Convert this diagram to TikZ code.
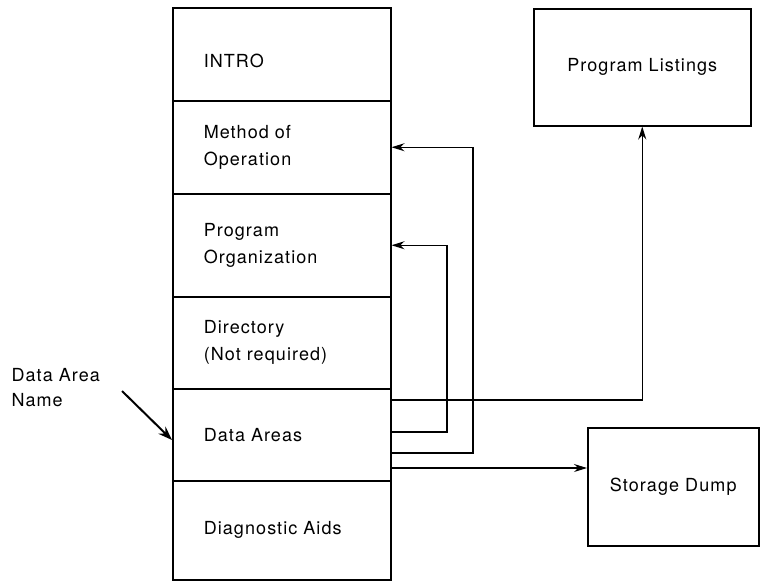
\documentclass[tikz,border=0pt]{standalone}
\usepackage{fontspec}
\setmainfont{TeX Gyre Heros}[LetterSpace=6]
\usetikzlibrary{arrows.meta}

\tikzset{
  section/.style={draw, line width=1.5pt, anchor=north west, minimum width=218pt,
    text width=156pt, inner xsep=31pt, align=left, font=\fontsize{18}{27}\selectfont},
  outbox/.style={draw, line width=1.5pt, anchor=north west, align=center,
    font=\fontsize{18}{27}\selectfont},
  flow/.style={line width=1.1pt, -{Stealth[length=13pt,width=8pt]}},
  pointer/.style={line width=2pt, -{Stealth[length=14pt,width=10pt]}}
}

\begin{document}
\begin{tikzpicture}[x=1pt,y=1pt]
\useasboundingbox (0,0) rectangle (760,-582);

% the manual, one section under the other
\node (intro) at (172,-7) [section, minimum height=93pt, text height=26pt] {INTRO};
\node (method) at (172,-100) [section, minimum height=93pt] {Method of\\Operation};
\node (organization) at (172,-193) [section, minimum height=103pt] {Program\\Organization};
\node (directory) at (172,-296) [section, minimum height=92pt] {Directory\\(Not required)};
\node (dataareas) at (172,-388) [section, minimum height=92pt] {Data Areas};
\node (diagnostic) at (172,-480) [section, minimum height=99pt] {Diagnostic Aids};

\node (listings) at (533,-8) [outbox, minimum width=217pt, minimum height=117pt] {Program Listings};
\node (dump) at (587,-427) [outbox, minimum width=171pt, minimum height=118pt] {Storage Dump};

\node (areaname) at (8,-388) [anchor=west, align=left, font=\fontsize{18}{25}\selectfont] {Data Area\\Name};
\coordinate (tail) at (122,-391);

% references out of the data areas
\draw[flow] (dataareas.east |- 0,-400) -| (listings.south);
\draw[flow] (dataareas.east |- 0,-432) -- (447,-432) |- (organization.east);
\draw[flow] (dataareas.east |- 0,-453) -- (473,-453) |- (method.east);
\draw[flow] (dataareas.east |- 0,-468) -- (dump.west |- 0,-468);

\draw[pointer] (tail) -- (dataareas.west |- 0,-440);
\end{tikzpicture}
\end{document}
